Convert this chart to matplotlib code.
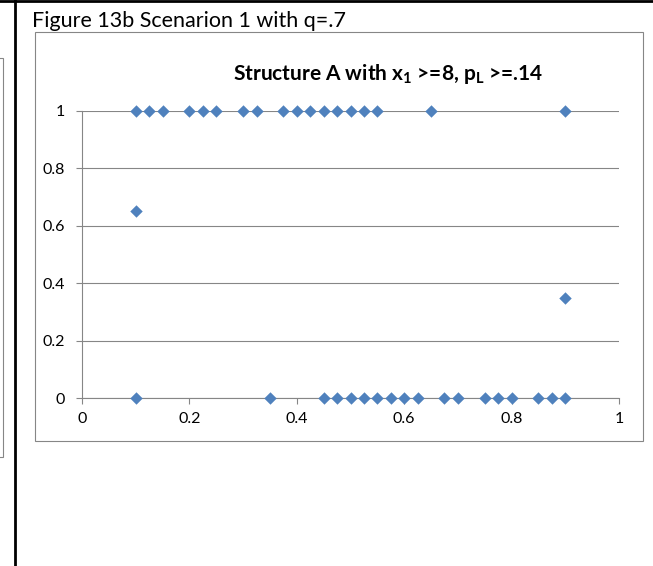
import matplotlib
matplotlib.use("Agg")
from matplotlib import pyplot as plt
from matplotlib.patches import Rectangle
from matplotlib.lines import Line2D

# points sitting on y = 1
x_top = [0.1, 0.125, 0.15, 0.2, 0.225, 0.25, 0.3, 0.325, 0.375, 0.4,
         0.425, 0.45, 0.475, 0.5, 0.525, 0.55, 0.65, 0.9]
# points sitting on y = 0
x_bottom = [0.1, 0.35, 0.45, 0.475, 0.5, 0.525, 0.55, 0.575, 0.6, 0.625,
            0.675, 0.7, 0.75, 0.775, 0.8, 0.85, 0.875, 0.9]
# the two points in between
x_mid = [0.1, 0.9]
y_mid = [0.65, 0.35]

ticks = [0, 0.2, 0.4, 0.6, 0.8, 1]
tick_labels = ["0", "0.2", "0.4", "0.6", "0.8", "1"]

plt.rcParams['font.family'] = ['Lato', 'DejaVu Sans']
plt.rcParams['mathtext.fontset'] = 'custom'
plt.rcParams['mathtext.rm'] = 'Lato:bold'

W, H = 653, 566
fig = plt.figure(figsize=(W / 100, H / 100), dpi=100)

def fx(px):
    return px / W

def fy(py):
    return 1 - py / H

grey = '#868686'
blue = '#4F81BD'

# page frame lines
fig.add_artist(Line2D([0, 1], [fy(1), fy(1)], color='black', lw=2))
fig.add_artist(Line2D([fx(15), fx(15)], [0, 1], color='black', lw=2))
# edge of the neighbouring chart box
fig.add_artist(Rectangle((fx(-20), fy(457)), fx(23), fy(58) - fy(457),
                         fill=False, edgecolor=grey, lw=0.8))
# chart area box
fig.add_artist(Rectangle((fx(35), fy(441)), fx(643 - 35), fy(32) - fy(441),
                         fill=False, edgecolor=grey, lw=0.8))

fig.text(fx(32), fy(27), "Figure 13b Scenarion 1 with q=.7", fontsize=15.5,
         va='baseline', ha='left')
fig.text(fx(388), fy(80),
         r"Structure A with x$_\mathregular{1}$ >=8, p$_\mathregular{L}$ >=.14",
         fontsize=15, fontweight='bold', va='baseline', ha='center')

ax = fig.add_axes([fx(82), fy(398.3), fx(619 - 82), fy(110.7) - fy(398.3)])
ax.set_xlim(0, 1)
ax.set_ylim(0, 1)
ax.set_xticks(ticks)
ax.set_xticklabels(tick_labels)
ax.set_yticks(ticks)
ax.set_yticklabels(tick_labels)
ax.tick_params(direction='out', length=4, width=0.8, color=grey,
               labelsize=11.5, labelcolor='black')
ax.tick_params(axis='y', pad=8)
ax.tick_params(axis='x', pad=6)
ax.grid(axis='y', color=grey, lw=0.8)
ax.set_axisbelow(True)
for side in ['top', 'right']:
    ax.spines[side].set_visible(False)
for side in ['left', 'bottom']:
    ax.spines[side].set_color(grey)
    ax.spines[side].set_linewidth(0.8)

ax.scatter(x_top, [1] * len(x_top), marker='D', s=40, color=blue,
           clip_on=False, zorder=3, linewidths=0)
ax.scatter(x_bottom, [0] * len(x_bottom), marker='D', s=40, color=blue,
           clip_on=False, zorder=3, linewidths=0)
ax.scatter(x_mid, y_mid, marker='D', s=40, color=blue,
           clip_on=False, zorder=3, linewidths=0)

fig.savefig("out.png", dpi=100)
